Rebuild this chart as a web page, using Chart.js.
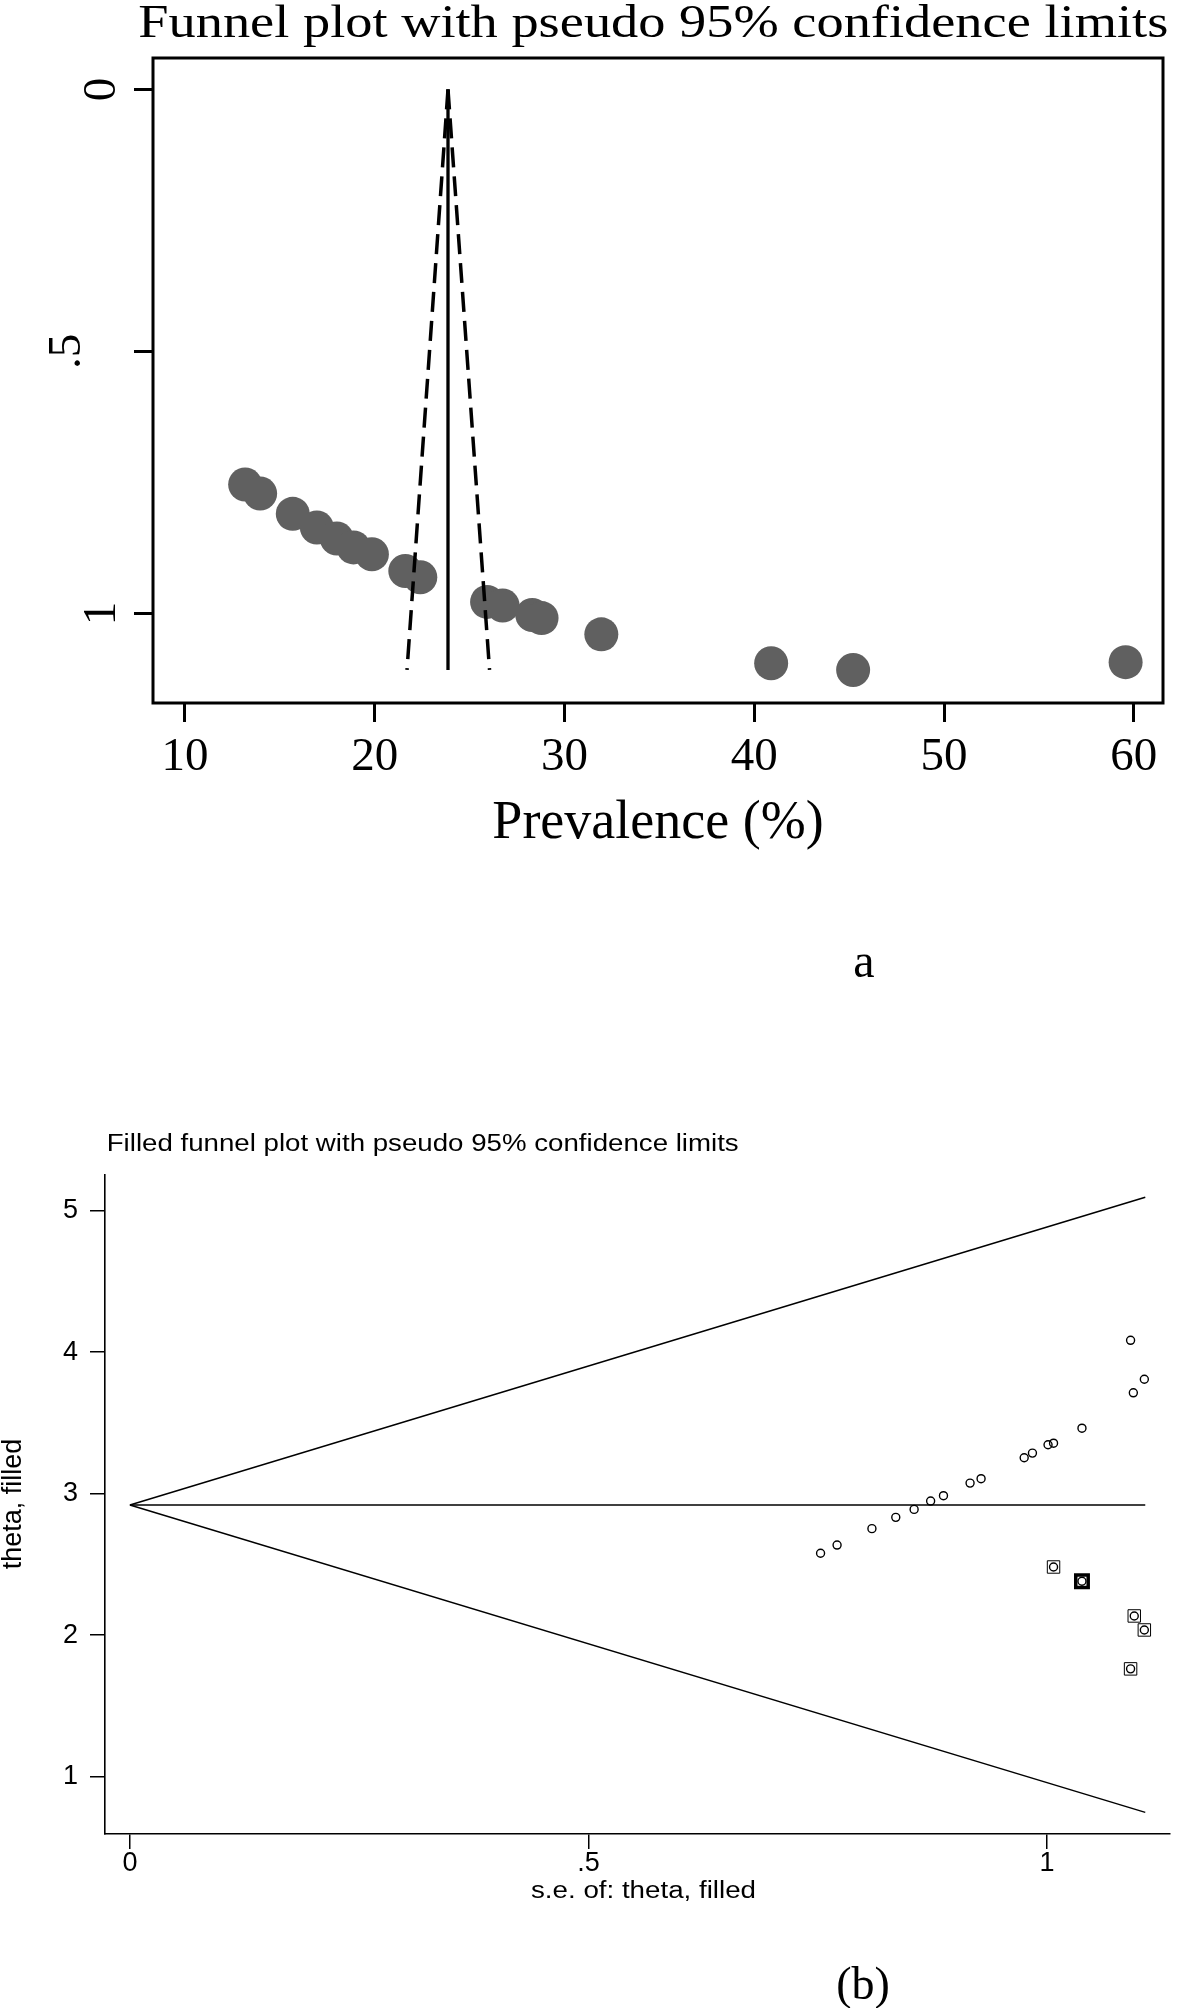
<!DOCTYPE html>
<html>
<head>
<meta charset="utf-8">
<script src="https://cdn.jsdelivr.net/npm/chart.js@4.4.1/dist/chart.umd.min.js"></script>
<style>
  html, body { margin: 0; padding: 0; background: #fff; }
  body { width: 1182px; height: 2008px; position: relative; overflow: hidden; }
  canvas { position: absolute; left: 0; }
  #funnelA { top: 0; }
  #funnelB { top: 1100px; }
</style>
</head>
<body>
<canvas id="funnelA" width="1182" height="1000"></canvas>
<canvas id="funnelB" width="1182" height="908"></canvas>
<script>
'use strict';

// panel a: prevalence (%) of each study against its standard error
let prevalence = [13.17, 13.96, 15.68, 16.95, 18.0, 18.88, 19.85, 21.61, 22.4, 25.92, 26.74, 28.3, 28.79, 31.94, 40.89, 45.21, 59.57];
let prevalenceSE = [0.754, 0.771, 0.81, 0.836, 0.857, 0.874, 0.887, 0.919, 0.931, 0.978, 0.985, 1.003, 1.009, 1.04, 1.095, 1.108, 1.093];
let funnelSE = [0, 1.108];
let funnelCentre = [23.86, 23.86];
let funnelLeft = [23.86, 21.7];
let funnelRight = [23.86, 26.05];
let xTicksA = [10, 20, 30, 40, 50, 60];
let yTicksA = [0, 0.5, 1];
let yTickLabelsA = ['0', '.5', '1'];

// panel b: trim and fill, theta against s.e.
let theta = [2.579, 2.637, 2.753, 2.833, 2.889, 2.948, 2.986, 3.075, 3.106, 3.254, 3.287, 3.346, 3.357, 3.463, 3.713, 3.809, 4.084];
let thetaSE = [0.753, 0.771, 0.809, 0.835, 0.855, 0.873, 0.887, 0.916, 0.928, 0.975, 0.984, 1.001, 1.007, 1.038, 1.094, 1.106, 1.091];
let filledTheta = [2.482, 2.381, 2.136, 2.037, 1.762];
let filledSE = [1.007, 1.038, 1.095, 1.106, 1.091];
let limitSE = [0, 1.107];
let pooledTheta = [2.92, 2.92];
let upperLimit = [2.92, 5.095];
let lowerLimit = [2.92, 0.748];
let xTicksB = [0, 0.5, 1];
let xTickLabelsB = ['0', '.5', '1'];
let yTicksB = [1, 2, 3, 4, 5];

const serif = '"Liberation Serif", "Times New Roman", serif';
const sans = '"Liberation Sans", Arial, sans-serif';

function toPoints(xs, ys) {
  return xs.map((x, i) => ({ x: x, y: ys[i] }));
}

function fixedTicks(values) {
  return function (scale) {
    scale.ticks = values.map(v => ({ value: v }));
  };
}

// extra text: titles, panel letters (some of the original text is drawn wider than the font)
function textLayer(items) {
  return {
    id: 'textLayer',
    afterDraw(chart) {
      let ctx = chart.ctx;
      items.forEach(item => {
        ctx.save();
        ctx.font = item.font;
        ctx.fillStyle = '#000';
        ctx.textBaseline = 'alphabetic';
        ctx.textAlign = item.align;
        ctx.translate(item.x, item.y);
        if (item.rotate) {
          ctx.rotate(item.rotate);
        }
        if (item.width) {
          ctx.scale(item.width / ctx.measureText(item.text).width, 1);
        }
        ctx.fillText(item.text, 0, 0);
        ctx.restore();
      });
    }
  };
}

// box round the plot area of panel a
const framePlugin = {
  id: 'frame',
  afterDraw(chart) {
    let area = chart.chartArea;
    let ctx = chart.ctx;
    ctx.save();
    ctx.strokeStyle = '#000';
    ctx.lineWidth = 3;
    ctx.strokeRect(area.left, area.top, area.right - area.left, area.bottom - area.top);
    ctx.restore();
  }
};

// vertical y tick labels of panel a, Stata pushes the wider ".5" further out
const rotatedTicks = {
  id: 'rotatedTicks',
  afterDraw(chart) {
    let scale = chart.scales.y;
    let ctx = chart.ctx;
    ctx.save();
    ctx.font = '47px ' + serif;
    ctx.fillStyle = '#000';
    ctx.textAlign = 'center';
    ctx.textBaseline = 'alphabetic';
    let w0 = ctx.measureText('0').width;
    yTicksA.forEach((v, i) => {
      let label = yTickLabelsA[i];
      let w = ctx.measureText(label).width;
      let px = scale.right - 38 - 3 * (w - w0);
      let py = scale.getPixelForValue(v);
      ctx.save();
      ctx.translate(px, py);
      ctx.rotate(-Math.PI / 2);
      ctx.fillText(label, 0, 0);
      ctx.restore();
    });
    ctx.restore();
  }
};

function lineSet(xs, ys, width, dash, order) {
  return {
    data: toPoints(xs, ys),
    showLine: true,
    borderColor: '#000',
    borderWidth: width,
    borderDash: dash,
    pointRadius: 0,
    order: order
  };
}

// ---------- panel a ----------
new Chart(document.getElementById('funnelA'), {
  type: 'scatter',
  data: {
    datasets: [
      lineSet(funnelCentre, funnelSE, 3.3, [], 0),
      lineSet(funnelLeft, funnelSE, 3.5, [20, 9], 0),
      lineSet(funnelRight, funnelSE, 3.5, [20, 9], 0),
      {
        data: toPoints(prevalence, prevalenceSE),
        pointRadius: 17,
        pointBackgroundColor: '#606060',
        pointBorderWidth: 0,
        order: 1
      }
    ]
  },
  options: {
    responsive: false,
    animation: false,
    devicePixelRatio: 1,
    layout: { padding: { top: 58, right: 19, bottom: 0, left: 0 } },
    plugins: { legend: { display: false }, tooltip: { enabled: false } },
    scales: {
      x: {
        type: 'linear',
        min: 8.314,
        max: 61.54,
        afterBuildTicks: fixedTicks(xTicksA),
        afterFit: s => { s.height = 297; },
        border: { display: false },
        grid: { drawOnChartArea: false, drawTicks: true, tickLength: 19, lineWidth: 3, color: '#000' },
        ticks: { color: '#000', font: { family: serif, size: 47, lineHeight: 1 }, padding: 12, maxRotation: 0, autoSkip: false },
        title: {
          display: true,
          text: 'Prevalence (%)',
          color: '#000',
          font: { family: serif, size: 54, lineHeight: 1 },
          padding: { top: 0, bottom: 149.5 }
        }
      },
      y: {
        type: 'linear',
        reverse: true,
        min: -0.0601,
        max: 1.171,
        afterBuildTicks: fixedTicks(yTicksA),
        afterFit: s => { s.width = 153; },
        border: { display: false },
        grid: { drawOnChartArea: false, drawTicks: true, tickLength: 19, lineWidth: 3, color: '#000' },
        ticks: { display: false }
      }
    }
  },
  plugins: [
    framePlugin,
    rotatedTicks,
    textLayer([
      { text: 'Funnel plot with pseudo 95% confidence limits', font: '46px ' + serif, align: 'left', x: 138.3, y: 36.7, width: 1030 },
      { text: 'a', font: '48px ' + serif, align: 'center', x: 864, y: 977 }
    ])
  ]
});

// ---------- panel b ----------
new Chart(document.getElementById('funnelB'), {
  type: 'scatter',
  data: {
    datasets: [
      {
        data: toPoints(thetaSE, theta),
        pointStyle: 'circle',
        pointRadius: 4,
        pointBorderWidth: 1.4,
        pointBorderColor: '#000',
        pointBackgroundColor: 'rgba(0,0,0,0)',
        order: 0
      },
      {
        data: toPoints(filledSE, filledTheta),
        pointStyle: 'circle',
        pointRadius: 4,
        pointBorderWidth: 1.4,
        pointBorderColor: '#000',
        pointBackgroundColor: 'rgba(0,0,0,0)',
        order: 0
      },
      {
        data: toPoints(filledSE, filledTheta),
        pointStyle: 'rect',
        pointRadius: 8.8,
        pointBorderWidth: [1, 3.5, 1, 1, 1],
        pointBorderColor: '#000',
        pointBackgroundColor: 'rgba(0,0,0,0)',
        order: 0
      },
      lineSet(limitSE, upperLimit, 1.5, [], 1),
      lineSet(limitSE, lowerLimit, 1.5, [], 1),
      lineSet(limitSE, pooledTheta, 1.5, [], 1)
    ]
  },
  options: {
    responsive: false,
    animation: false,
    devicePixelRatio: 1,
    layout: { padding: { top: 75, right: 0, bottom: 0, left: 0 } },
    plugins: { legend: { display: false }, tooltip: { enabled: false } },
    scales: {
      x: {
        type: 'linear',
        min: -0.02716,
        max: 1.13365,
        afterBuildTicks: fixedTicks(xTicksB),
        afterFit: s => { s.height = 174; },
        border: { display: true, color: '#000', width: 1.6 },
        grid: { drawOnChartArea: false, drawTicks: true, tickLength: 15, lineWidth: 1.5, color: '#000' },
        ticks: {
          color: '#000',
          font: { family: sans, size: 27, lineHeight: 1 },
          padding: 1,
          maxRotation: 0,
          autoSkip: false,
          callback: (value, index) => xTickLabelsB[index]
        }
      },
      y: {
        type: 'linear',
        min: 0.595,
        max: 5.2523,
        afterBuildTicks: fixedTicks(yTicksB),
        afterFit: s => { s.width = 105; },
        border: { display: true, color: '#000', width: 1.6 },
        grid: { drawOnChartArea: false, drawTicks: true, tickLength: 15, lineWidth: 1.5, color: '#000' },
        ticks: { color: '#000', font: { family: sans, size: 27, lineHeight: 1 }, padding: 12, autoSkip: false }
      }
    }
  },
  plugins: [
    textLayer([
      { text: 'Filled funnel plot with pseudo 95% confidence limits', font: '23.5px ' + sans, align: 'left', x: 106.7, y: 50.7, width: 632 },
      { text: 's.e. of: theta, filled', font: '23px ' + sans, align: 'center', x: 643.5, y: 798.3, width: 225 },
      { text: 'theta, filled', font: '27px ' + sans, align: 'center', x: 21, y: 404, rotate: -Math.PI / 2 },
      { text: '(b)', font: '46px ' + serif, align: 'center', x: 863, y: 898.6 }
    ])
  ]
});
</script>
</body>
</html>
